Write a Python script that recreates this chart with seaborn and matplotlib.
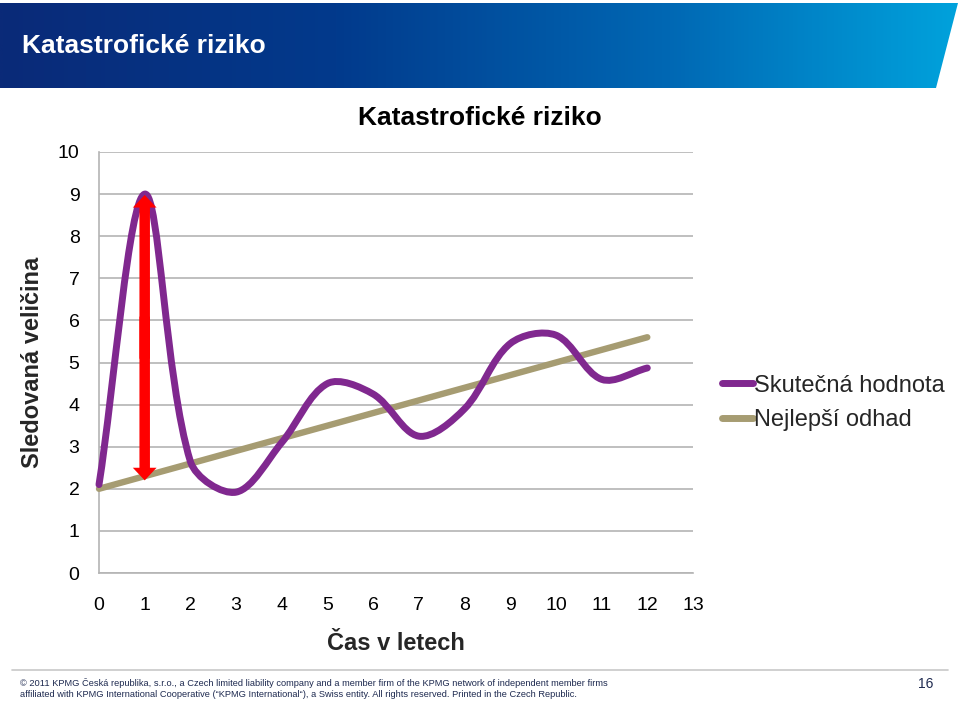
import numpy as np
import matplotlib
matplotlib.use("Agg")
import matplotlib.pyplot as plt
import seaborn as sns
from matplotlib.path import Path
from matplotlib.patches import PathPatch, Polygon
from matplotlib.lines import Line2D
from matplotlib.colors import LinearSegmentedColormap

# ---------------- data ----------------
years = [0, 1, 2, 3, 4, 5, 6, 7, 8, 9, 10, 11, 12]
actual = [2.1, 9.0, 2.65, 1.92, 3.1, 4.5, 4.25, 3.25, 3.9, 5.45, 5.65, 4.6, 4.87]
est_years = [0, 12]
estimate = [2.0, 5.6]
arrow_x = 1
arrow_top = 8.98
arrow_bottom = 2.2
x_ticks = list(range(0, 14))
y_ticks = list(range(0, 11))

header_title = "Katastrofické riziko"
chart_title = "Katastrofické riziko"
x_label = "Čas v letech"
y_label = "Sledovaná veličina"
series_names = ["Skutečná hodnota", "Nejlepší odhad"]
footer_lines = [
    "© 2011 KPMG Česká republika, s.r.o., a Czech limited liability company and a member firm of the KPMG network of independent member firms",
    "affiliated with KPMG International Cooperative (\u201cKPMG International\u201c), a Swiss entity. All rights reserved. Printed in the Czech Republic.",
]
page_no = "16"

purple = "#80288f"
olive = "#a69c72"
grid_c = "#b4b4b4"

sns.set_style("white")
plt.rcParams["font.family"] = ["Liberation Sans", "DejaVu Sans"]

W, H = 960, 705
fig = plt.figure(figsize=(W / 100, H / 100), dpi=100)

# ---------------- header banner ----------------
bax = fig.add_axes([0, 0, 1, 1], zorder=0)
bax.set_xlim(0, W)
bax.set_ylim(H, 0)
bax.axis("off")
cmap = LinearSegmentedColormap.from_list(
    "kpmg", [(0, "#0a2a78"), (0.35, "#023a8c"), (0.7, "#0068b4"), (1.0, "#00a2dc")])
grad = np.linspace(0, 1, 512).reshape(1, -1)
im = bax.imshow(grad, cmap=cmap, extent=[0, 958, 88, 3], aspect="auto")
clip = Polygon([(0, 3), (958, 3), (936, 88), (0, 88)], closed=True,
               transform=bax.transData, facecolor="none", edgecolor="none")
bax.add_patch(clip)
im.set_clip_path(clip)
bax.text(22, 46, header_title, color="white", fontsize=19, fontweight="bold",
         va="center", ha="left")

# chart title (centred over the whole chart area incl. legend)
bax.text(480, 118, chart_title, color="black", fontsize=19, fontweight="bold",
         va="center", ha="center")

# footer
bax.plot([12, 948], [670, 670], color="#c8c8c8", lw=1.2)
for i, t in enumerate(footer_lines):
    bax.text(20, 683 + i * 11.5, t, fontsize=6.7, color="#1e2a50",
             va="center", ha="left")
bax.text(926, 684, page_no, fontsize=10, color="#1e2a50",
         va="center", ha="center")

# ---------------- chart axes ----------------
AX_L, AX_B, AX_W, AX_H = 99, 573, 594, 421
ax = fig.add_axes([AX_L / W, 1 - AX_B / H, AX_W / W, AX_H / H], zorder=2)
ax.set_facecolor("none")
ax.set_xlim(0, 13)
ax.set_ylim(0, 10)
ax.set_xticks(x_ticks)
ax.set_yticks(y_ticks)
ax.tick_params(axis="both", labelsize=14, colors=grid_c, labelcolor="black",
               length=7, width=1.2, direction="out")
ax.tick_params(axis="x", pad=10)
ax.tick_params(axis="y", pad=7)
ax.grid(axis="y", color=grid_c, lw=1.2)
ax.grid(axis="x", visible=False)
for s in ["top", "right"]:
    ax.spines[s].set_visible(False)
for s in ["left", "bottom"]:
    ax.spines[s].set_color(grid_c)
    ax.spines[s].set_linewidth(1.2)
ax.set_axisbelow(True)

# estimate line
sns.lineplot(x=est_years, y=estimate, ax=ax, color=olive, lw=4.6, legend=False,
             solid_capstyle="round", zorder=3, clip_on=False)

# smoothed actual curve: bezier with chord-length scaled tangents (spreadsheet style)
sx = AX_W / 13.0
sy = AX_H / 10.0
pts = np.column_stack([years, actual]).astype(float)
pp = pts * np.array([sx, sy])
n = len(pts)
out_c, in_c = [], []
for i in range(n):
    a = pp[max(i - 1, 0)]
    b = pp[min(i + 1, n - 1)]
    d = b - a
    lin = np.linalg.norm(pp[i] - a)
    lout = np.linalg.norm(b - pp[i])
    tot = lin + lout if lin + lout > 0 else 1.0
    out_c.append(pp[i] + d * (lout / tot) / 3.0)
    in_c.append(pp[i] - d * (lin / tot) / 3.0)
verts = [tuple(pts[0])]
codes = [Path.MOVETO]
for i in range(n - 1):
    c1 = out_c[i] / np.array([sx, sy])
    c2 = in_c[i + 1] / np.array([sx, sy])
    verts += [tuple(c1), tuple(c2), tuple(pts[i + 1])]
    codes += [Path.CURVE4] * 3
patch = PathPatch(Path(verts, codes), facecolor="none", edgecolor=purple, lw=5,
                  capstyle="round", joinstyle="round", zorder=4, clip_on=False)
ax.add_patch(patch)

# red double arrow
mid = (arrow_top + arrow_bottom) / 2
for end, start in ((arrow_top, mid - 0.5), (arrow_bottom, mid + 0.5)):
    ax.arrow(arrow_x, start, 0, end - start, width=0.23, head_width=0.52,
             head_length=0.3, length_includes_head=True, color="#ff0000",
             lw=0, zorder=5)

ax.set_xlabel(x_label, fontsize=17, fontweight="bold", labelpad=13)
ax.set_ylabel(y_label, fontsize=17, fontweight="bold", labelpad=10)

handles = [Line2D([], [], color=purple, lw=5, solid_capstyle="round"),
           Line2D([], [], color=olive, lw=5, solid_capstyle="round")]
fig.legend(handles, series_names, loc="center left",
           bbox_to_anchor=(701 / W, 1 - 403 / H), frameon=False, fontsize=17,
           handlelength=1.3, handletextpad=0.05, labelspacing=0.55)

fig.savefig("out.png", dpi=100)
